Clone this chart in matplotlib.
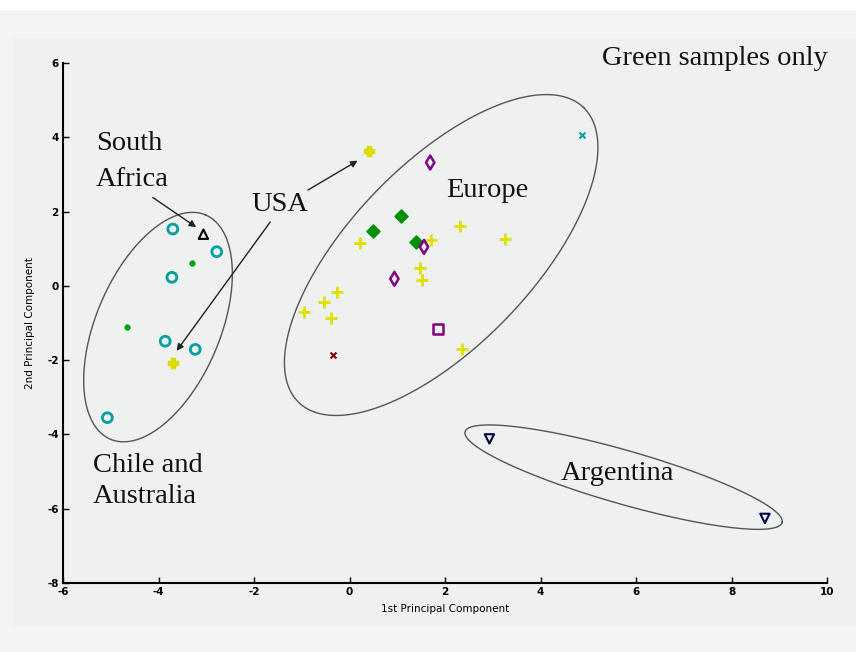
import numpy as np
import matplotlib
matplotlib.use('Agg')
import matplotlib.pyplot as plt
from matplotlib.patches import Rectangle

plt.rcParams['axes.unicode_minus'] = False

# --- data ---
chile_x = [-3.70, -2.78, -3.72, -3.86, -3.23, -5.07]
chile_y = [1.53, 0.92, 0.23, -1.49, -1.71, -3.55]
dots_x = [-3.29, -4.65]
dots_y = [0.61, -1.10]
safrica_x = [-3.06]
safrica_y = [1.39]
usa_x = [-3.69, 0.41]
usa_y = [-2.07, 3.63]
plus_x = [0.21, 1.70, 2.32, 3.25, 1.47, 1.52, -0.26, -0.54, -0.95, -0.39, 2.36]
plus_y = [1.15, 1.23, 1.61, 1.26, 0.49, 0.16, -0.16, -0.43, -0.71, -0.87, -1.71]
gdiam_x = [1.08, 0.50, 1.39]
gdiam_y = [1.87, 1.48, 1.19]
pdiam_x = [1.69, 1.56, 0.94]
pdiam_y = [3.32, 1.05, 0.19]
psq_x = [1.86]
psq_y = [-1.17]
cx_x = [4.87]
cx_y = [4.06]
bx_x = [-0.35]
bx_y = [-1.85]
arg_x = [2.93, 8.70]
arg_y = [-4.12, -6.26]

# ellipses: centre, semi axes (in y units), angle on screen
ell_chile = (-4.01, -1.11, 3.28, 1.67, 67)
ell_europe = (1.92, 0.83, 5.52, 2.45, 46)
ell_arg = (5.74, -5.15, 4.44, 0.72, -16.0)

W, H = 856, 652
fig = plt.figure(figsize=(W / 100, H / 100), dpi=100, facecolor='#f4f4f4')
fig.patches.append(Rectangle((0, 1 - 10 / H), 1, 10 / H, transform=fig.transFigure,
                             facecolor='white', edgecolor='none', zorder=-10))
fig.patches.append(Rectangle((13 / W, 1 - 627 / H), 1, (627 - 38) / H, transform=fig.transFigure,
                             facecolor='#eff1f1', edgecolor='none', zorder=-10))

ax = fig.add_axes([63 / W, 1 - 583 / H, 764 / W, 520 / H])
ax.set_facecolor('none')
ax.set_xlim(-6, 10)
ax.set_ylim(-8, 6)
for side in ['top', 'right']:
    ax.spines[side].set_visible(False)
for side in ['left', 'bottom']:
    ax.spines[side].set_linewidth(1.5)
ax.set_xticks(range(-6, 11, 2))
ax.set_yticks(range(-8, 7, 2))
ax.tick_params(direction='in', length=4, width=1, labelsize=7.5, pad=3)
for lab in ax.get_xticklabels() + ax.get_yticklabels():
    lab.set_fontweight('bold')
ax.set_xlabel('1st Principal Component', fontsize=7.5, labelpad=5)
ax.set_ylabel('2nd Principal Component', fontsize=7.5, labelpad=9)

# x unit vs y unit on screen
s = (764 / 16) / (520 / 14)


def ellipse_xy(xc, yc, a, b, ang):
    t = np.linspace(0, 2 * np.pi, 300)
    th = np.radians(ang)
    u = a * np.cos(th) * np.cos(t) - b * np.sin(th) * np.sin(t)
    v = a * np.sin(th) * np.cos(t) + b * np.cos(th) * np.sin(t)
    return xc + u / s, yc + v


for e in [ell_chile, ell_europe, ell_arg]:
    ex, ey = ellipse_xy(*e)
    ax.plot(ex, ey, color='#555555', lw=1.0)

ax.scatter(chile_x, chile_y, s=50, facecolors='none', edgecolors='#00a0a0', linewidths=2, zorder=3)
ax.scatter(dots_x, dots_y, s=12, color='#00a000', zorder=3)
ax.scatter(safrica_x, safrica_y, s=45, marker='^', facecolors='none', edgecolors='black', linewidths=1.5, zorder=3)
ax.scatter(usa_x, usa_y, s=60, marker='P', color='#e0e000', edgecolors='#d8d800', zorder=3)
ax.scatter(plus_x, plus_y, s=70, marker='+', color='#e0e000', linewidths=2, zorder=3)
ax.scatter(gdiam_x, gdiam_y, s=45, marker='D', color='#008f00', zorder=3)
ax.scatter(pdiam_x, pdiam_y, s=50, marker='d', facecolors='none', edgecolors='#800080', linewidths=1.8, zorder=3)
ax.scatter(psq_x, psq_y, s=55, marker='s', facecolors='none', edgecolors='#800080', linewidths=1.8, zorder=3)
ax.scatter(cx_x, cx_y, s=18, marker='x', color='#00a0a0', linewidths=1.5, zorder=3)
ax.scatter(bx_x, bx_y, s=18, marker='x', color='#800000', linewidths=1.5, zorder=3)
ax.scatter(arg_x, arg_y, s=45, marker='v', facecolors='none', edgecolors='#000040', linewidths=1.5, zorder=3)

serif = dict(family='Liberation Serif', fontsize=20.5, color='#111111')
ax.text(10.02, 6.13, 'Green samples only', ha='right', va='center', clip_on=False, **serif)
ax.text(-5.31, 3.35, 'South\nAfrica', ha='left', va='center', linespacing=1.55, **serif)
ax.text(-1.46, 2.18, 'USA', ha='center', va='center', **serif)
ax.text(2.88, 2.58, 'Europe', ha='center', va='center', **serif)
ax.text(-5.37, -5.25, 'Chile and\nAustralia', ha='left', va='center', linespacing=1.35, **serif)
ax.text(5.62, -5.04, 'Argentina', ha='center', va='center', **serif)

arr = dict(arrowstyle='-|>', color='#222222', lw=1.0, mutation_scale=10, shrinkA=0, shrinkB=0)
ax.annotate('', xy=(-3.21, 1.58), xytext=(-4.12, 2.38), arrowprops=arr)
ax.annotate('', xy=(-3.62, -1.75), xytext=(-1.66, 1.72), arrowprops=arr)
ax.annotate('', xy=(0.17, 3.37), xytext=(-0.87, 2.58), arrowprops=arr)

plt.savefig('out.png', dpi=100, facecolor=fig.get_facecolor())
